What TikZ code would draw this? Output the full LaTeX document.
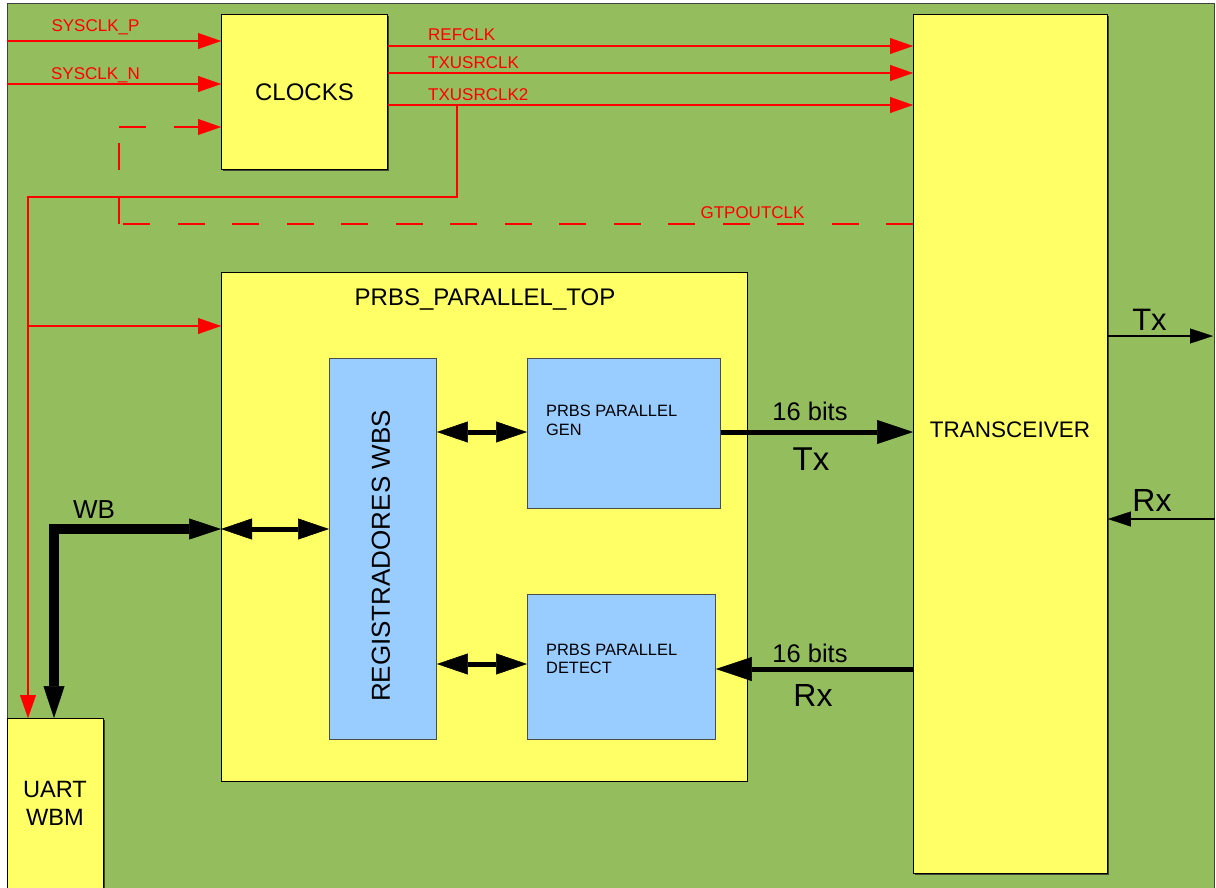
\documentclass[tikz,border=0pt]{standalone}
\usepackage{fontspec}
\setmainfont{Liberation Sans}
\usetikzlibrary{arrows.meta,calc}

\definecolor{bggreen}{HTML}{94BD5E}
\definecolor{blkyellow}{HTML}{FFFF66}
\definecolor{blkblue}{HTML}{99CCFF}
\definecolor{sigred}{HTML}{FF0000}
\definecolor{shade}{HTML}{3C4630}

\newcommand{\fsz}[2]{\fontsize{#1}{#2}\selectfont}

\begin{document}
\begin{tikzpicture}[x=1pt,y=-1pt,
  block/.style={draw=black, line width=0.9pt, fill=blkyellow, inner sep=0pt,
    anchor=north west},
  shadowed/.style={preaction={fill=shade, transform canvas={shift={(1.6pt,-1.6pt)}}}},
  subblock/.style={draw=black!70, line width=0.9pt, fill=blkblue, inner sep=0pt,
    anchor=north west},
  clkwire/.style={draw=sigred, line width=1.3pt},
  clkarrow/.style={clkwire, -{Triangle[length=23pt,width=16pt,line width=0.3pt]}},
  clkdash/.style={clkwire, dash pattern=on 27pt off 27.5pt},
  sig/.style={text=sigred, font=\fsz{17}{20}, inner sep=0pt, anchor=base},
  bus/.style={line width=5pt, -{Triangle[length=36pt,width=24pt,line width=0.5pt]}},
  dbus/.style={line width=5pt,
    {Triangle[length=31pt,width=21pt,line width=0.5pt]}-{Triangle[length=31pt,width=21pt,line width=0.5pt]}},
  wbbus/.style={line width=10pt,
    {Triangle[length=32pt,width=21pt,line width=0.5pt]}-{Triangle[length=32pt,width=21pt,line width=0.5pt]}},
  serial/.style={line width=1.1pt, -{Triangle[length=23pt,width=15pt,line width=0.3pt]}},
  lbl/.style={inner sep=0pt, text=black}
]
\useasboundingbox (0,0) rectangle (1216,887);
\fill[white] (0,0) rectangle (1216,887);

% board background
\filldraw[fill=bggreen, draw=black!75, line width=1pt] (7,3) rectangle (1214,895);

% blocks
\node[block, shadowed, minimum width=166pt, minimum height=155pt, font=\fsz{24}{28}]
  (clk) at (221,14) {CLOCKS};
\node[block, shadowed, minimum width=194pt, minimum height=859pt] (trx) at (913,14) {};
\node[lbl, font=\fsz{22.5}{26}] (trxlbl) at (1010,430) {TRANSCEIVER};
\node[block, minimum width=526pt, minimum height=509pt] (prbs) at (221,272) {};
\node[lbl, font=\fsz{24}{28}, anchor=base] (prbslbl) at (485,305) {PRBS\_PARALLEL\_TOP};
\node[block, shadowed, minimum width=96pt, minimum height=180pt] (uart) at (7,718) {};
\node[lbl, font=\fsz{23.6}{28}, align=center] (uartlbl) at (55,803) {UART\\WBM};

% sub-blocks inside PRBS_PARALLEL_TOP
\node[subblock, minimum width=107pt, minimum height=381pt] (reg) at (329,358) {};
\node[lbl, rotate=90, font=\fsz{26}{30}] (reglbl) at (381,556) {REGISTRADORES WBS};
\node[subblock, minimum width=193pt, minimum height=150pt] (gen) at (527,358) {};
\node[lbl, anchor=north west, align=left, font=\fsz{16.4}{19}] (genlbl) at (546,405)
  {PRBS PARALLEL\\GEN};
\node[subblock, minimum width=188pt, minimum height=145pt] (det) at (527,594) {};
\node[lbl, anchor=north west, align=left, font=\fsz{16.4}{18}] (detlbl) at (546,644)
  {PRBS PARALLEL\\DETECT};

% clock inputs
\coordinate (inP) at (7,41);
\coordinate (inN) at (7,84);
\draw[clkarrow] (inP) -- (inP -| clk.west);
\draw[clkarrow] (inN) -- (inN -| clk.west);
\node[sig] (sysp) at (95.5,31) {SYSCLK\_P};
\node[sig] (sysn) at (95.5,79) {SYSCLK\_N};

% clock outputs to the transceiver
\coordinate (rRef) at (0,46);
\coordinate (rUsr) at (0,73);
\coordinate (rUsr2) at (0,105);
\draw[clkarrow] (clk.east |- rRef) -- (trx.west |- rRef);
\draw[clkarrow] (clk.east |- rUsr) -- (trx.west |- rUsr);
\draw[clkarrow] (clk.east |- rUsr2) -- (trx.west |- rUsr2);
\node[sig, anchor=base west] (refl) at (428,40.7) {REFCLK};
\node[sig, anchor=base west] (usrl) at (428,68) {TXUSRCLK};
\node[sig, anchor=base west] (usr2l) at (428,100) {TXUSRCLK2};

% TXUSRCLK2 distribution to UART and PRBS top
\coordinate (tap) at (457,105);
\coordinate (cornerB) at (28,197);
\coordinate (split) at (28,326);
\draw[clkarrow] (tap) |- (cornerB) -- (uart.north -| cornerB);
\draw[clkarrow] (split) -- (split -| prbs.west);

% GTPOUTCLK feedback (dashed)
\coordinate (gA) at (119,224);
\coordinate (gB) at (119,127);
\draw[clkdash] (trx.west |- gA) -- (gA);
\draw[clkdash] (gA) -- (gB);
\draw[clkdash, -{Triangle[length=23pt,width=16pt,line width=0.3pt]}] (gB) -- (gB -| clk.west);
\node[sig] (gtpl) at (752.5,218) {GTPOUTCLK};

% data paths
\coordinate (txrow) at (0,432);
\coordinate (rxrow) at (0,669);
\coordinate (genrow) at (0,432);
\coordinate (detrow) at (0,664);
\coordinate (wbrow) at (0,529);
\coordinate (wbx) at (54,0);
\draw[bus] (gen.east |- txrow) -- (trx.west |- txrow);
\draw[bus] (trx.west |- rxrow) -- (det.east |- rxrow);
\draw[dbus] (reg.east |- genrow) -- (gen.west |- genrow);
\draw[dbus] (reg.east |- detrow) -- (det.west |- detrow);
\draw[dbus] (prbs.west |- wbrow) -- (reg.west |- wbrow);
\draw[wbbus] (uart.north -| wbx) |- (prbs.west |- wbrow);

\node[lbl, font=\fsz{25.5}{30}] (txbits) at (810,411) {16 bits};
\node[lbl, font=\fsz{33}{38}] (txl) at (811,459) {Tx};
\node[lbl, font=\fsz{25.5}{30}] (rxbits) at (810,653) {16 bits};
\node[lbl, font=\fsz{32}{38}] (rxl) at (813,695) {Rx};
\node[lbl, font=\fsz{26}{30}] (wbl) at (94,510) {WB};

% serial lines
\coordinate (txend) at (1213,336);
\coordinate (rxstart) at (1215,519);
\draw[serial] (trx.east |- txend) -- (txend);
\draw[serial] (rxstart) -- (trx.east |- rxstart);
\node[lbl, font=\fsz{31}{36}] (txo) at (1149.5,320) {Tx};
\node[lbl, font=\fsz{32}{36}] (rxo) at (1152,500.5) {Rx};
\end{tikzpicture}
\end{document}
